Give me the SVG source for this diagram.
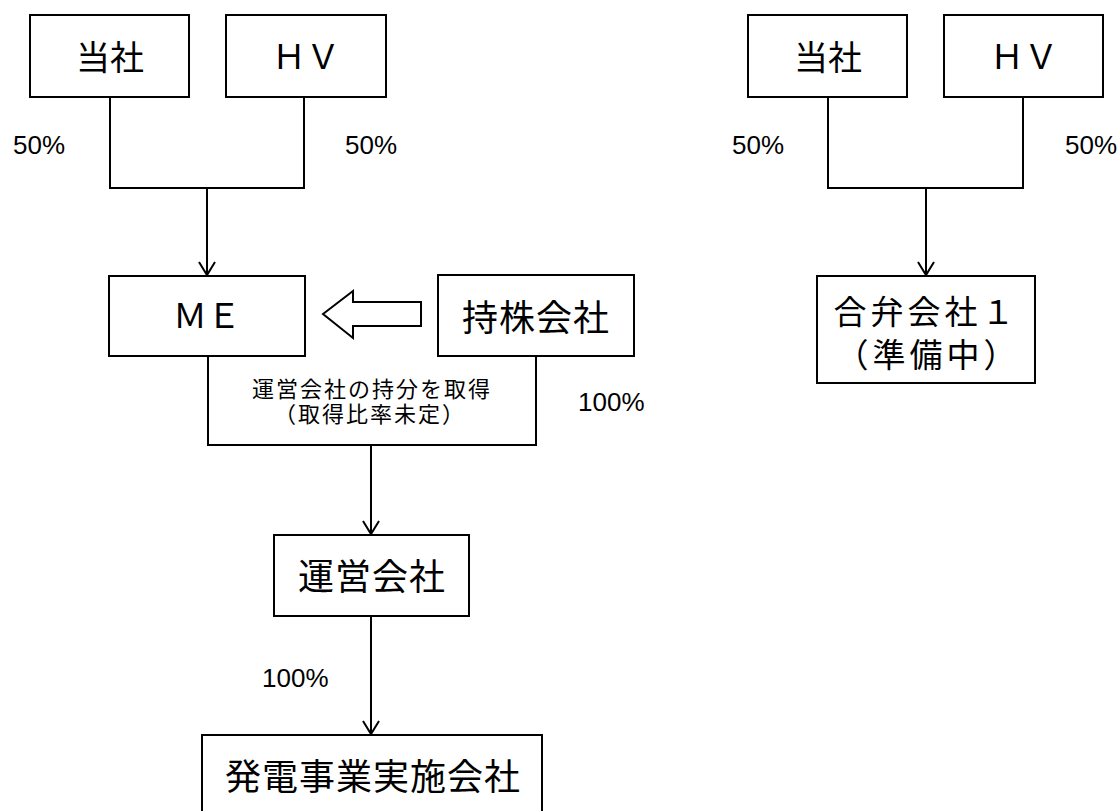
<svg xmlns="http://www.w3.org/2000/svg" width="1119" height="811" viewBox="0 0 1119 811">
<style>
.box{fill:#fff;stroke:#000;stroke-width:2}
.c{fill:none;stroke:#000;stroke-width:2}
.t{font-family:"Noto Sans CJK JP","Noto Sans",sans-serif;fill:#000;text-anchor:middle}
.p{font-family:"Liberation Sans",Arial,sans-serif;font-size:26px;fill:#000}
</style>
<defs>
<marker id="ah" markerUnits="userSpaceOnUse" markerWidth="18" markerHeight="20" refX="14" refY="9" orient="auto" viewBox="0 0 18 20">
<path d="M1,1 L14,9 L1,17" fill="none" stroke="#000" stroke-width="2"/>
</marker>
</defs>
<rect width="1119" height="811" fill="#fff"/>
<g id="connectors">
<path class="c" d="M110,97 V188 H304 V97"/>
<path class="c" d="M207,188 V275" marker-end="url(#ah)"/>
<path class="c" d="M208,356 V445 H536 V356"/>
<path class="c" d="M371,445 V534" marker-end="url(#ah)"/>
<path class="c" d="M371,616 V734" marker-end="url(#ah)"/>
<path class="c" d="M828,97 V188 H1023 V97"/>
<path class="c" d="M926,188 V275" marker-end="url(#ah)"/>
<polygon class="c" points="323,314 353,291 353,302 421,302 421,326 353,326 353,338" stroke-linejoin="miter"/>
</g>
<g id="n-tousha-l"><rect class="box" x="30" y="15" width="159" height="82"/><text class="t" x="110" y="70" font-size="34">当社</text></g>
<g id="n-hv-l"><rect class="box" x="226" y="15" width="160" height="82"/><text class="t" x="306" y="69" font-size="34">ＨＶ</text></g>
<g id="n-me"><rect class="box" x="109" y="276" width="196" height="80"/><text class="t" x="207" y="328" font-size="34">ＭＥ</text></g>
<g id="n-mochikabu"><rect class="box" x="438" y="275" width="196" height="81"/><text class="t" x="536" y="331" font-size="36" letter-spacing="1">持株会社</text></g>
<g id="n-unei"><rect class="box" x="274" y="535" width="195" height="81"/><text class="t" x="372" y="590" font-size="36" letter-spacing="1">運営会社</text></g>
<g id="n-hatsuden"><rect class="box" x="202" y="735" width="340" height="100"/><text class="t" x="373" y="790" font-size="36" letter-spacing="1">発電事業実施会社</text></g>
<g id="n-tousha-r"><rect class="box" x="748" y="15" width="159" height="82"/><text class="t" x="828" y="70" font-size="34">当社</text></g>
<g id="n-hv-r"><rect class="box" x="944" y="15" width="159" height="82"/><text class="t" x="1024" y="69" font-size="34">ＨＶ</text></g>
<g id="n-jv"><rect class="box" x="817" y="276" width="218" height="107"/><text class="t" x="926" y="324" font-size="33" letter-spacing="4">合弁会社１</text><text class="t" x="928" y="367" font-size="33" letter-spacing="4">（準備中）</text></g>
<g id="labels">
<text class="t" x="372" y="397" font-size="22" letter-spacing="2">運営会社の持分を取得</text>
<text class="t" x="370" y="422" font-size="22" letter-spacing="2">（取得比率未定）</text>
<text class="p" x="13" y="154">50%</text>
<text class="p" x="345" y="154">50%</text>
<text class="p" x="732" y="154">50%</text>
<text class="p" x="1065" y="154">50%</text>
<text class="p" x="578" y="411">100%</text>
<text class="p" x="262" y="687">100%</text>
</g>
</svg>
